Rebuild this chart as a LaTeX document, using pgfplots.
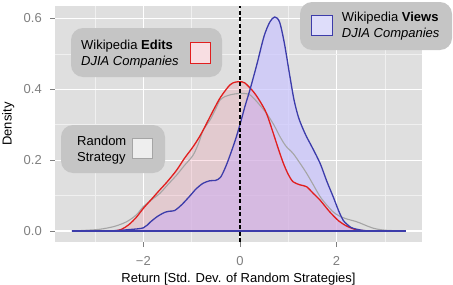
\documentclass[border=0pt]{standalone}
\usepackage{fontspec}
\setmainfont{Liberation Sans}
\usepackage{pgfplots}
\usepackage{pgfplotstable}
\pgfplotsset{compat=1.18}
\definecolor{panelbg}{RGB}{223,223,223}
\definecolor{minorgrid}{RGB}{240,240,240}
\definecolor{tickgrey}{RGB}{127,127,127}
\definecolor{viewsline}{RGB}{60,60,170}
\definecolor{viewsfill}{RGB}{202,197,255}
\definecolor{editsline}{RGB}{225,30,30}
\definecolor{editsfill}{RGB}{242,118,147}
\definecolor{randline}{RGB}{165,165,165}
\definecolor{boxgrey}{RGB}{197,197,197}
\definecolor{viewskey}{RGB}{222,221,250}
\definecolor{editskey}{RGB}{248,222,226}
\definecolor{randkey}{RGB}{238,238,238}

\pgfplotstableread{
x y
-3.48 0
-3.0 0.0003
-2.6 0.001
-2.3 0.004
-2.0 0.009
-1.85 0.026
-1.7 0.042
-1.55 0.053
-1.45 0.056
-1.35 0.058
-1.2 0.075
-1.03 0.10
-0.9 0.12
-0.76 0.135
-0.62 0.142
-0.5 0.143
-0.4 0.152
-0.3 0.18
-0.21 0.212
-0.1 0.255
0.0 0.30
0.1 0.35
0.21 0.40
0.35 0.47
0.5 0.55
0.62 0.59
0.72 0.604
0.82 0.59
0.92 0.53
1.03 0.44
1.12 0.37
1.21 0.322
1.3 0.29
1.38 0.266
1.5 0.235
1.66 0.191
1.8 0.14
1.93 0.097
2.05 0.055
2.14 0.03
2.21 0.02
2.3 0.01
2.42 0.005
2.6 0.001
3.0 0
3.43 0
}\viewsdata

\pgfplotstableread{
x y
-2.6 0
-2.45 0.005
-2.3 0.018
-2.15 0.038
-2.0 0.064
-1.83 0.09
-1.66 0.116
-1.5 0.14
-1.31 0.172
-1.15 0.205
-0.97 0.238
-0.8 0.275
-0.55 0.341
-0.4 0.378
-0.21 0.412
-0.1 0.42
0.0 0.421
0.1 0.418
0.28 0.393
0.42 0.365
0.55 0.332
0.69 0.276
0.8 0.23
0.9 0.191
1.0 0.16
1.10 0.139
1.25 0.13
1.38 0.125
1.52 0.106
1.66 0.087
1.86 0.054
2.05 0.028
2.21 0.014
2.35 0.006
2.48 0.002
2.7 0
}\editsdata

\pgfplotstableread{
x y
-3.48 0
-3.2 0.002
-2.9 0.005
-2.6 0.013
-2.35 0.026
-2.15 0.045
-2.0 0.069
-1.83 0.088
-1.66 0.106
-1.5 0.13
-1.31 0.158
-1.15 0.185
-0.97 0.214
-0.85 0.25
-0.76 0.285
-0.62 0.313
-0.5 0.345
-0.41 0.37
-0.3 0.38
-0.21 0.384
-0.1 0.387
0.0 0.388
0.1 0.388
0.21 0.384
0.35 0.365
0.55 0.332
0.7 0.3
0.83 0.266
0.95 0.24
1.1 0.219
1.25 0.19
1.38 0.163
1.5 0.135
1.66 0.097
1.8 0.073
1.93 0.054
2.05 0.043
2.21 0.034
2.35 0.029
2.48 0.023
2.62 0.015
2.76 0.008
2.9 0.004
3.04 0.002
3.2 0.001
3.43 0
}\randdata

\begin{document}
\begin{tikzpicture}[font=\fontsize{13bp}{15.6bp}\selectfont]
\begin{axis}[
  at={(55bp,-6bp)}, anchor=north west,
  scale only axis, width=367bp, height=236bp,
  xmin=-3.83, xmax=3.77, ymin=-0.031, ymax=0.635,
  axis background/.style={fill=panelbg},
  axis line style={draw=none},
  xtick={-2,0,2}, xticklabels={−2,0,2},
  ytick={0,0.2,0.4,0.6}, yticklabels={0.0,0.2,0.4,0.6},
  minor xtick={-3,-1,1,3}, minor ytick={0.1,0.3,0.5},
  grid=both,
  major grid style={white, line width=1.1bp},
  minor grid style={minorgrid, line width=0.55bp},
  tick align=outside, major tick length=5bp, minor tick length=0pt,
  tick style={tickgrey, line width=0.8bp},
  xtick pos=bottom, ytick pos=left,
  ticklabel style={text=tickgrey, font=\fontsize{13bp}{15.6bp}\selectfont},
  /pgf/number format/assume math mode=true,
  xticklabel style={anchor=north, inner sep=0pt, yshift=-9bp},
  yticklabel style={anchor=east, inner sep=0pt, xshift=-8bp},
  xlabel={Return [Std. Dev. of Random Strategies]},
  ylabel={Density},
  xlabel style={at={(axis description cs:0.5,-0.1695)}, anchor=base, inner sep=0pt},
  ylabel style={at={(axis description cs:-0.1185,0.5)}, anchor=base, inner sep=0pt},
]
\addplot[draw=none, fill=viewsfill, fill opacity=0.7, smooth] table {\viewsdata} \closedcycle;
\addplot[draw=none, fill=editsfill, fill opacity=0.2, smooth] table {\editsdata} \closedcycle;
\addplot[randline, line width=1.1bp, smooth] table {\randdata};
\addplot[editsline, line width=1.3bp, smooth] table {\editsdata};
\addplot[viewsline, line width=1.3bp, smooth] table {\viewsdata};
\addplot[viewsline, line width=1.3bp] coordinates {(-3.48,0) (3.43,0)};
\addplot[black, line width=1.2bp, dash pattern=on 4bp off 2.5bp] coordinates {(0,-0.031) (0,0.635)};
\end{axis}
% annotation boxes
\fill[boxgrey, rounded corners=12bp] (71bp,-28bp) rectangle (222bp,-77bp);
\draw[editsline, fill=editskey, line width=0.8bp] (190.7bp,-42bp) rectangle (210.7bp,-63bp);
\node[anchor=base west, inner sep=0pt] at (81bp,-49bp) {Wikipedia \textbf{Edits}};
\node[anchor=base west, inner sep=0pt] at (81bp,-65bp) {\textit{DJIA Companies}};
\fill[boxgrey, rounded corners=12bp] (300bp,-2bp) rectangle (452bp,-50bp);
\draw[viewsline, fill=viewskey, line width=0.8bp] (311.7bp,-15bp) rectangle (332.7bp,-35bp);
\node[anchor=base west, inner sep=0pt] at (341.7bp,-21bp) {Wikipedia \textbf{Views}};
\node[anchor=base west, inner sep=0pt] at (341.7bp,-37.3bp) {\textit{DJIA Companies}};
\fill[boxgrey, rounded corners=12bp] (61bp,-125bp) rectangle (165bp,-173bp);
\draw[randline, fill=randkey, line width=0.8bp] (132bp,-138bp) rectangle (152bp,-158bp);
\node[anchor=base west, inner sep=0pt] at (77bp,-145bp) {Random};
\node[anchor=base west, inner sep=0pt] at (77bp,-161bp) {Strategy};
\pgfresetboundingbox
\path[use as bounding box] (0,0) rectangle (453bp,-285bp);
\end{tikzpicture}
\end{document}
